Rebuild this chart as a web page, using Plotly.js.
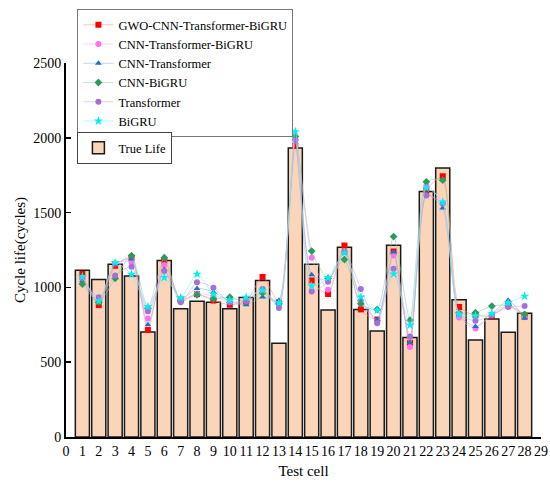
<!DOCTYPE html>
<html>
<head>
<meta charset="utf-8">
<script src="https://cdn.plot.ly/plotly-3.0.1.min.js"></script>
<style>html,body{margin:0;padding:0;background:#fff;}#chart{width:550px;height:486px;}</style>
</head>
<body>
<div id="chart"></div>
<script>
const cells = [1,2,3,4,5,6,7,8,9,10,11,12,13,14,15,16,17,18,19,20,21,22,23,24,25,26,27,28];
const trueLife = [1115,1052,1155,1076,702,1179,858,908,901,858,932,1046,626,1932,1155,849,1269,853,709,1282,665,1641,1798,917,648,788,700,827];
const gwo = [1090,882,1145,1200,715,1177,915,955,912,884,905,1070,900,1947,1046,956,1280,853,785,1240,630,1647,1743,869,814,810,880,810];
const cnnTB = [1060,915,1160,1170,792,1150,915,960,940,900,915,986,880,1990,1199,984,1240,908,775,1214,602,1680,1560,799,726,815,875,800];
const cnnT = [1045,905,1155,1190,750,1120,920,993,970,905,884,936,914,1995,1085,1050,1230,920,785,1236,630,1625,1531,815,738,820,914,794];
const cnnB = [1022,901,1060,1212,860,1199,910,951,923,934,905,963,890,2008,1243,1060,1186,890,853,1340,781,1706,1717,830,831,875,880,820];
const transformer = [1060,934,1080,1138,840,1110,901,1035,997,900,908,989,862,1980,973,1038,1240,989,761,1125,672,1614,1560,820,777,814,869,875];
const bigru = [1072,908,1166,1087,872,1066,932,1088,955,914,934,980,897,2041,1010,1064,1230,935,847,1090,748,1663,1571,820,810,827,897,941];
const xTicks = [0,1,2,3,4,5,6,7,8,9,10,11,12,13,14,15,16,17,18,19,20,21,22,23,24,25,26,27,28,29];
const yTicks = [0,500,1000,1500,2000,2500];

const font = "Liberation Serif, Times New Roman, serif";

const series = [
  {name:"GWO-CNN-Transformer-BiGRU", y:gwo, symbol:"square", mc:"#ff0000", lc:"rgba(255,140,140,0.55)"},
  {name:"CNN-Transformer-BiGRU", y:cnnTB, symbol:"circle", mc:"#ff6ef5", lc:"rgba(255,170,250,0.55)"},
  {name:"CNN-Transformer", y:cnnT, symbol:"triangle-up", mc:"#1f6fc5", lc:"rgba(140,180,225,0.55)"},
  {name:"CNN-BiGRU", y:cnnB, symbol:"diamond", mc:"#2a9d5c", lc:"rgba(140,205,165,0.55)"},
  {name:"Transformer", y:transformer, symbol:"circle", mc:"#a46fd6", lc:"rgba(200,170,235,0.55)"},
  {name:"BiGRU", y:bigru, symbol:"star", mc:"#00f0f0", lc:"rgba(140,240,240,0.6)"}
];

const traces = [{
  type:"bar", x:cells, y:trueLife, name:"True Life", legend:"legend2",
  width:0.86,
  marker:{color:"#fad5b9", line:{color:"#1a1a1a", width:1.5}}
}];
series.forEach(s => traces.push({
  type:"scatter", mode:"lines+markers", x:cells, y:s.y, name:s.name,
  line:{color:s.lc, width:1, shape:"spline", smoothing:0.6},
  marker:{symbol:s.symbol, color:s.mc, size:s.symbol==="star"?7:6}
}));

const layout = {
  width:550, height:486,
  margin:{l:66, r:9, t:56, b:49},
  paper_bgcolor:"#fff", plot_bgcolor:"#fff",
  font:{family:font, size:14, color:"#000"},
  showlegend:true,
  bargap:0.14,
  xaxis:{
    range:[0,29], tickmode:"array", tickvals:xTicks, ticktext:xTicks.map(String),
    showgrid:false, zeroline:false, showline:true, linecolor:"#000", linewidth:2,
    ticks:"", tickfont:{family:font, size:14}, tickangle:0,
    title:{text:"Test cell", font:{family:font, size:15}, standoff:8}
  },
  yaxis:{
    range:[0,2500], tickmode:"array", tickvals:yTicks,
    showgrid:false, zeroline:false, showline:true, linecolor:"#000", linewidth:2,
    ticks:"inside", ticklen:5, tickwidth:1.5, tickcolor:"#000",
    tickfont:{family:font, size:14},
    title:{text:"Cycle life(cycles)", font:{family:font, size:15}, standoff:4}
  },
  legend:{
    x:0.024, y:1.144, xanchor:"left", yanchor:"top",
    bgcolor:"#fff", bordercolor:"#777", borderwidth:1,
    font:{family:font, size:12.5}, tracegroupgap:0, itemwidth:30
  },
  legend2:{
    x:0.024, y:0.815, xanchor:"left", yanchor:"top",
    bgcolor:"#fff", bordercolor:"#444", borderwidth:1,
    font:{family:font, size:12.5}, itemwidth:30
  }
};

Plotly.newPlot("chart", traces, layout, {displayModeBar:false, staticPlot:true});
</script>
</body>
</html>
